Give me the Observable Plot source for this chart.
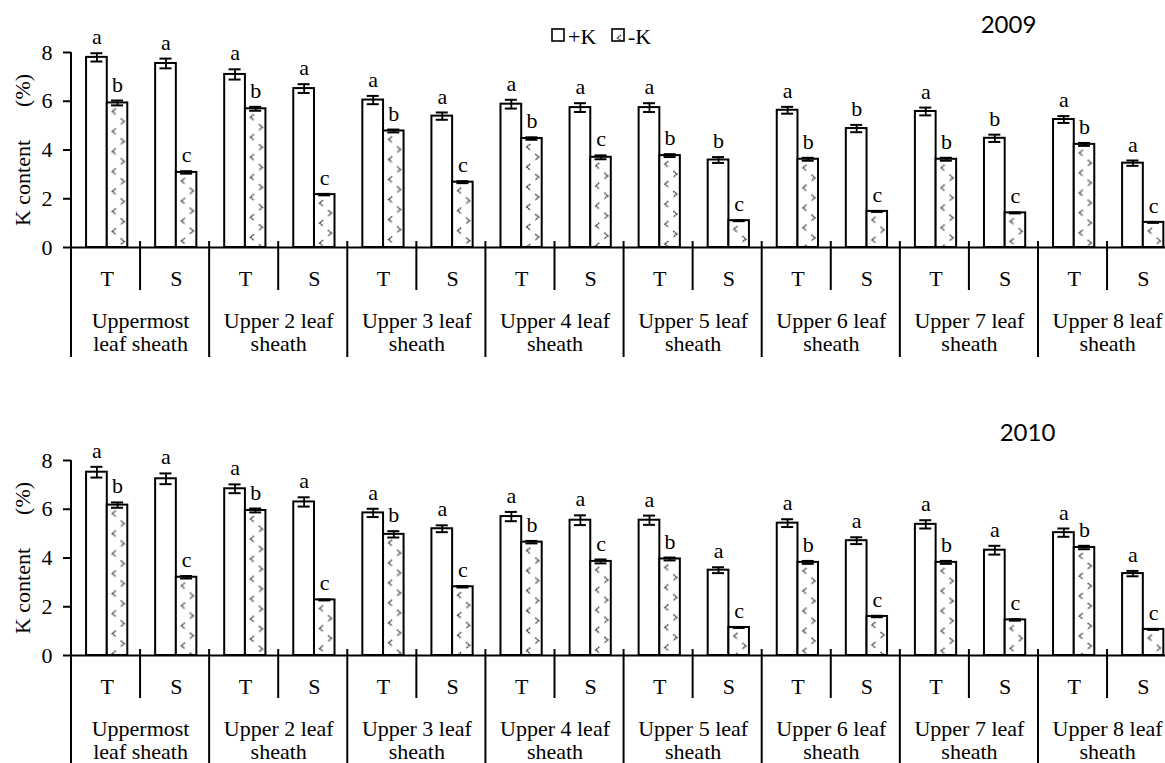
<!DOCTYPE html>
<html><head><meta charset="utf-8">
<script src="https://cdn.jsdelivr.net/npm/d3@7"></script>
<script src="https://cdn.jsdelivr.net/npm/@observablehq/plot@0.6"></script>
<style>
html,body{margin:0;padding:0;background:#fff;overflow:hidden;}
#chart svg{display:block;overflow:hidden;}
#chart svg [aria-label="y-axis tick"]{stroke-width:2;}
</style></head><body><div id="chart"></div>
<script>
// ---- data ----
const positions = ["Uppermost\nleaf sheath","Upper 2 leaf\nsheath","Upper 3 leaf\nsheath","Upper 4 leaf\nsheath",
                   "Upper 5 leaf\nsheath","Upper 6 leaf\nsheath","Upper 7 leaf\nsheath","Upper 8 leaf\nsheath"];
const cultivars = ["T","S"];
const treatments = ["+K","-K"];
const years = ["2009","2010"];
const yTicks = [0,2,4,6,8];

// order: position1 T, position1 S, position2 T, ...
const plusK2009     = [7.80,7.55, 7.10,6.52, 6.05,5.39, 5.88,5.74, 5.74,3.59, 5.63,4.88, 5.58,4.48, 5.25,3.46];
const plusKErr2009  = [0.17,0.20, 0.21,0.18, 0.17,0.15, 0.18,0.18, 0.18,0.12, 0.14,0.15, 0.16,0.15, 0.14,0.11];
const plusKLet2009  = ["a","a", "a","a", "a","a", "a","a", "a","b", "a","b", "a","b", "a","a"];
const minusK2009    = [5.93,3.08, 5.69,2.17, 4.78,2.68, 4.47,3.70, 3.77,1.10, 3.62,1.48, 3.62,1.42, 4.23,1.03];
const minusKErr2009 = [0.10,0.05, 0.08,0.03, 0.06,0.04, 0.05,0.08, 0.06,0.02, 0.06,0.02, 0.06,0.02, 0.06,0.02];
const minusKLet2009 = ["b","c", "b","c", "b","c", "b","c", "b","c", "b","c", "b","c", "b","c"];

const plusK2010     = [7.52,7.25, 6.84,6.30, 5.85,5.20, 5.70,5.55, 5.55,3.50, 5.43,4.71, 5.38,4.32, 5.04,3.36];
const plusKErr2010  = [0.22,0.22, 0.18,0.19, 0.17,0.14, 0.19,0.20, 0.19,0.12, 0.16,0.14, 0.17,0.18, 0.17,0.11];
const plusKLet2010  = ["a","a", "a","a", "a","a", "a","a", "a","a", "a","a", "a","a", "a","a"];
const minusK2010    = [6.17,3.21, 5.95,2.28, 4.97,2.82, 4.65,3.86, 3.96,1.15, 3.82,1.60, 3.82,1.46, 4.43,1.07];
const minusKErr2010 = [0.11,0.05, 0.08,0.02, 0.13,0.03, 0.05,0.08, 0.06,0.02, 0.06,0.03, 0.06,0.03, 0.07,0.02];
const minusKLet2010 = ["b","c", "b","c", "b","c", "b","c", "b","c", "b","c", "b","c", "b","c"];

// ---- layout ----
const W = 1165;
const marginLeft = 71;
const sectionWidth = 69.07;
const nSections = positions.length * cultivars.length;
const barSpan = {"+K": [0.218, 0.518], "-K": [0.518, 0.815]};
const capHalf = 0.087;
const serif = "Liberation Serif, Times New Roman, Tinos, DejaVu Serif, serif";

function buildRows(pv, pe, pl, mv, me, ml) {
  const out = [];
  positions.forEach((p, g) => cultivars.forEach((c, ci) => {
    const i = g * cultivars.length + ci;
    out.push({i, treatment: treatments[0], v: pv[i], e: pe[i], letter: pl[i]});
    out.push({i, treatment: treatments[1], v: mv[i], e: me[i], letter: ml[i]});
  }));
  return out;
}
const center = d => d.i + (barSpan[d.treatment][0] + barSpan[d.treatment][1]) / 2;

function renderArgs(args) {
  return args.length >= 4 ? {scales: args[1], dims: args[3]} : {scales: args[0], dims: args[1]};
}

function patternDefs(id) {
  return () => {
    const defs = d3.create("svg:defs");
    const p = defs.append("pattern").attr("id", id)
      .attr("patternUnits", "objectBoundingBox").attr("patternContentUnits", "userSpaceOnUse")
      .attr("x", 0).attr("y", 0).attr("width", 1).attr("height", 1);
    p.append("rect").attr("width", 60).attr("height", 400).attr("fill", "white");
    let d = "";
    for (let k = 0; k < 20; k++) {
      const y1 = 9 + k * 20, y2 = y1 + 10;
      d += `M9,${y1 - 3}L5.5,${y1}L9,${y1 + 3}`;
      d += `M14,${y2 - 3}L17.5,${y2}L14,${y2 + 3}`;
    }
    p.append("path").attr("d", d).attr("fill", "none").attr("stroke", "#4a4a4a").attr("stroke-width", 1.6)
      .attr("stroke-dasharray", "1.6,0.6");
    return defs.node();
  };
}

function separators(longLen) {
  return (...args) => {
    const {scales} = renderArgs(args);
    const x = scales.x, y = scales.y;
    const g = d3.create("svg:g").attr("stroke", "black").attr("stroke-width", 2);
    const y0 = y(0);
    for (let b = 0; b <= nSections; b++) {
      const isLong = b % cultivars.length === 0;
      const top = b === 0 ? y(yTicks[yTicks.length - 1]) : y0 - 6;
      const bottom = isLong ? y0 + longLen : y0 + 43;
      g.append("line").attr("x1", x(b)).attr("x2", x(b)).attr("y1", top).attr("y2", bottom);
    }
    return g.node();
  };
}

function legendMark(patId) {
  return () => {
    const g = d3.create("svg:g").attr("font-family", serif).attr("font-size", 22).attr("text-anchor", "start");
    const items = [{t: treatments[0], fill: "white", bx: 552, tx: 568}, {t: treatments[1], fill: `url(#${patId})`, bx: 612, tx: 628}];
    for (const it of items) {
      g.append("rect").attr("x", it.bx).attr("y", 29).attr("width", 12).attr("height", 12)
        .attr("fill", it.fill).attr("stroke", "black").attr("stroke-width", 1.6);
      g.append("text").attr("x", it.tx).attr("y", 44).attr("text-anchor", "start").style("text-anchor", "start").text(it.t);
    }
    return g.node();
  };
}

function panel(opts) {
  const {rows, year, height, marginTop, marginBottom, patId, longLen, yearDx, legend} = opts;
  const plus = rows.filter(d => d.treatment === treatments[0]);
  const minus = rows.filter(d => d.treatment === treatments[1]);
  const caps = rows.flatMap(d => [{x: center(d), y: d.v - d.e}, {x: center(d), y: d.v + d.e}]);
  const sections = positions.flatMap((p, g) => cultivars.map((c, ci) => ({i: g * cultivars.length + ci, c})));
  const marks = [
    patternDefs(patId),
    Plot.rect(plus, {x1: d => d.i + barSpan[d.treatment][0], x2: d => d.i + barSpan[d.treatment][1], y1: 0, y2: "v",
      fill: "white", stroke: "black", strokeWidth: 2}),
    Plot.rect(minus, {x1: d => d.i + barSpan[d.treatment][0], x2: d => d.i + barSpan[d.treatment][1], y1: 0, y2: "v",
      fill: `url(#${patId})`, stroke: "black", strokeWidth: 2}),
    Plot.ruleY([0], {stroke: "black", strokeWidth: 2}),
    Plot.ruleX(rows, {x: center, y1: d => d.v - d.e, y2: d => d.v + d.e, stroke: "black", strokeWidth: 1.8}),
    Plot.ruleY(caps, {y: "y", x1: d => d.x - capHalf, x2: d => d.x + capHalf, stroke: "black", strokeWidth: 2}),
    Plot.text(rows, {x: center, y: d => d.v + d.e, text: "letter", dy: -16, lineAnchor: "middle"}),
    Plot.text(sections, {x: d => d.i + 0.517, y: 0, text: "c", dy: 31, lineAnchor: "middle"}),
    Plot.text(positions, {x: (d, g) => g * cultivars.length + 1, y: 0, text: d => d, dy: 85, lineAnchor: "middle", lineHeight: 1.03}),
    separators(longLen),
    Plot.text([year], {text: d => d, frameAnchor: "top-right", dx: yearDx, dy: -27, lineAnchor: "middle",
      textAnchor: "middle", fontFamily: "Lato, Open Sans, sans-serif", fontSize: 24}),
    Plot.text(["K content\u2003\u2002(%)"], {text: d => d, frameAnchor: "left", dx: -49, rotate: -90,
      textAnchor: "middle", lineAnchor: "middle"})
  ];
  if (legend) marks.push(legendMark(patId));
  return Plot.plot({
    width: W, height, marginLeft, marginRight: 0, marginTop, marginBottom,
    style: {fontFamily: serif, fontSize: "22px", background: "white", overflow: "hidden"},
    x: {domain: [0, nSections], range: [marginLeft, marginLeft + nSections * sectionWidth], axis: null},
    y: {domain: [yTicks[0], yTicks[yTicks.length - 1]], ticks: yTicks.length - 1, tickSize: 8, tickPadding: 11, label: null},
    marks
  });
}

const rows2009 = buildRows(plusK2009, plusKErr2009, plusKLet2009, minusK2009, minusKErr2009, minusKLet2009);
const rows2010 = buildRows(plusK2010, plusKErr2010, plusKLet2010, minusK2010, minusKErr2010, minusKLet2010);

const chart = document.getElementById("chart");
chart.appendChild(panel({rows: rows2009, year: years[0], height: 380, marginTop: 52, marginBottom: 133,
  patId: "patK2009", longLen: 110, yearDx: -157, legend: true}));
chart.appendChild(panel({rows: rows2010, year: years[1], height: 383, marginTop: 80, marginBottom: 108,
  patId: "patK2010", longLen: 108, yearDx: -138, legend: false}));
</script></body></html>
